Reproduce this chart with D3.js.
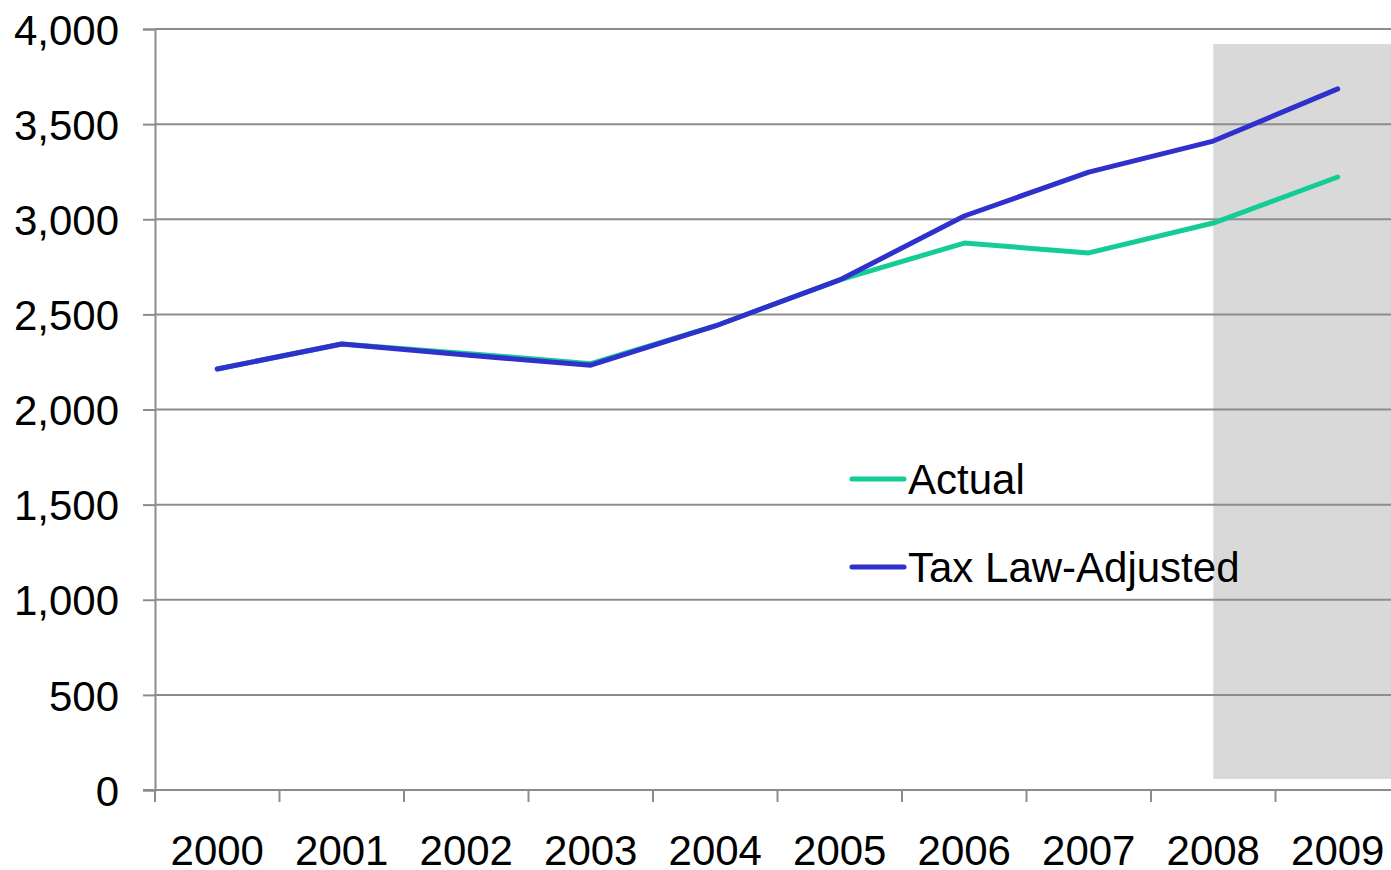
<!DOCTYPE html>
<html>
<head>
<meta charset="utf-8">
<script src="https://d3js.org/d3.v7.min.js"></script>
<style>
  body { margin: 0; background: #fff; }
  svg { display: block; font-family: "Liberation Sans", Arial, sans-serif; }
</style>
</head>
<body>
<div id="chart"></div>
<script>
// data
var years = ["2000", "2001", "2002", "2003", "2004", "2005", "2006", "2007", "2008", "2009"];
var actual = [2213, 2344, 2295, 2241, 2439, 2681, 2875, 2823, 2980, 3222];
var taxAdjusted = [2213, 2344, 2286, 2233, 2439, 2681, 3017, 3248, 3411, 3685];
var yTicks = [0, 500, 1000, 1500, 2000, 2500, 3000, 3500, 4000];
// shaded (projection) span, from 2008 onward
var shadeFrom = "2008", shadeTop = 3921, shadeBottom = 58;

var series = [
  { name: "Actual", values: actual, color: "#14cc96" },
  { name: "Tax Law-Adjusted", values: taxAdjusted, color: "#3030cc" }
];

var W = 1391, H = 870;
var margin = { top: 29, right: -9, bottom: 80, left: 155 };

var svg = d3.select("#chart").append("svg")
  .attr("width", W)
  .attr("height", H);

var x = d3.scaleBand()
  .domain(years)
  .range([margin.left, W - margin.right]);

var y = d3.scaleLinear()
  .domain([0, 4000])
  .range([H - margin.bottom, margin.top]);

var cx = function (d) { return x(d) + x.bandwidth() / 2; };

// shaded region
svg.append("rect")
  .attr("x", cx(shadeFrom))
  .attr("y", y(shadeTop))
  .attr("width", W - cx(shadeFrom))
  .attr("height", y(shadeBottom) - y(shadeTop))
  .attr("fill", "#d9d9d9");

// gridlines
svg.append("g").selectAll("line")
  .data(yTicks.filter(function (d) { return d > 0; }))
  .enter().append("line")
    .attr("x1", margin.left)
    .attr("x2", W)
    .attr("y1", function (d) { return y(d); })
    .attr("y2", function (d) { return y(d); })
    .attr("stroke", "#8c8c8c")
    .attr("stroke-width", 2);

// y axis
var yAxis = svg.append("g")
  .attr("transform", "translate(" + margin.left + ",0)")
  .call(d3.axisLeft(y).tickValues(yTicks).tickSize(12).tickPadding(24).tickFormat(d3.format(",")));
yAxis.select(".domain").attr("stroke", "#8c8c8c").attr("stroke-width", 2);
yAxis.selectAll(".tick line").attr("stroke", "#8c8c8c").attr("stroke-width", 2);
yAxis.selectAll("text").attr("font-size", 42).attr("fill", "#000").attr("dy", "0.36em");

// x axis: ticks at band edges, labels at band centres
var xAxis = svg.append("g")
  .attr("transform", "translate(0," + y(0) + ")");
xAxis.append("line")
  .attr("x1", margin.left - 12)
  .attr("x2", W)
  .attr("stroke", "#8c8c8c")
  .attr("stroke-width", 2);
xAxis.selectAll(".tk")
  .data(years)
  .enter().append("line")
    .attr("class", "tk")
    .attr("x1", function (d) { return x(d); })
    .attr("x2", function (d) { return x(d); })
    .attr("y1", 0)
    .attr("y2", 12)
    .attr("stroke", "#8c8c8c")
    .attr("stroke-width", 2);
xAxis.selectAll("text")
  .data(years)
  .enter().append("text")
    .attr("x", cx)
    .attr("y", 75)
    .attr("text-anchor", "middle")
    .attr("font-size", 42)
    .text(function (d) { return d; });

// lines
var line = d3.line()
  .x(function (d, i) { return cx(years[i]); })
  .y(function (d) { return y(d); });

svg.selectAll(".series")
  .data(series)
  .enter().append("path")
    .attr("class", "series")
    .attr("d", function (s) { return line(s.values); })
    .attr("fill", "none")
    .attr("stroke", function (s) { return s.color; })
    .attr("stroke-width", 5)
    .attr("stroke-linecap", "round")
    .attr("stroke-linejoin", "round");

// legend
var legend = svg.append("g").attr("transform", "translate(852,479)");
var item = legend.selectAll("g")
  .data(series)
  .enter().append("g")
    .attr("transform", function (d, i) { return "translate(0," + i * 88 + ")"; });
item.append("line")
  .attr("x1", 0).attr("x2", 52)
  .attr("stroke", function (d) { return d.color; })
  .attr("stroke-width", 5)
  .attr("stroke-linecap", "round");
item.append("text")
  .attr("x", 56)
  .attr("dy", "0.36em")
  .attr("font-size", 42)
  .text(function (d) { return d.name; });
</script>
</body>
</html>
